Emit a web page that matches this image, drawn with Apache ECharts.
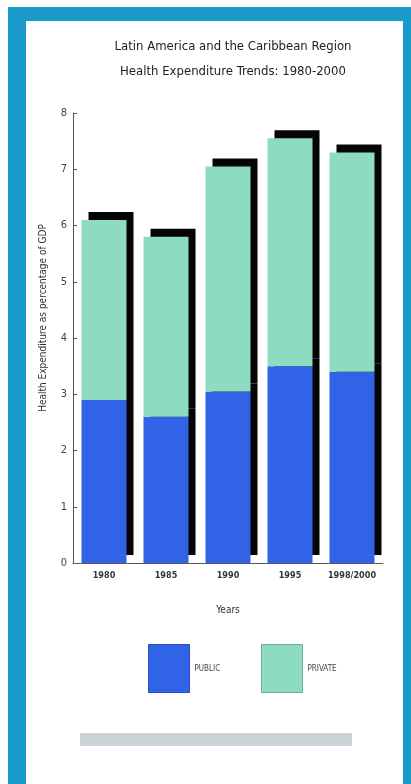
<!DOCTYPE html>
<html>
<head>
<meta charset="utf-8">
<script src="https://cdn.jsdelivr.net/npm/echarts@6/dist/echarts.min.js"></script>
<style>
html,body{margin:0;padding:0;background:#fff;overflow:hidden;}
#frame{position:absolute;left:8px;top:7px;width:377px;height:800px;border-left:18px solid #1a9acb;border-top:14px solid #1a9acb;border-right:8px solid #1a9acb;background:#fff;}
#chart{position:absolute;left:0;top:0;width:411px;height:784px;}
</style>
</head>
<body>
<div id="frame"></div>
<div id="chart"></div>
<script>
const titleLines = ['Latin America and the Caribbean Region', 'Health Expenditure Trends: 1980-2000'];
const categories = ['1980', '1985', '1990', '1995', '1998/2000'];
const publicValues = [2.9, 2.6, 3.05, 3.5, 3.4];
const privateValues = [3.2, 3.2, 4.0, 4.05, 3.9];
const seriesNames = ['PUBLIC', 'PRIVATE'];
const yAxisTitle = 'Health Expenditure as percentage of GDP';
const xAxisTitle = 'Years';

const font = "'Liberation Sans Narrow', 'DejaVu Sans Condensed', 'Liberation Sans', sans-serif";
const chart = echarts.init(document.getElementById('chart'), null, {renderer: 'canvas'});
const noShadow = {shadowBlur: 0, shadowOffsetX: 0, shadowOffsetY: 0, shadowColor: 'rgba(0,0,0,0)'};
chart.setOption({
  animation: false,
  backgroundColor: 'transparent',
  title: {
    text: titleLines.join('\n'),
    left: 228, top: 29, textAlign: 'center',
    textStyle: {fontFamily: font, fontSize: 13, fontWeight: 'normal', color: '#222', lineHeight: 25}
  },
  grid: {left: 73, right: 28, top: 113, bottom: 221, containLabel: false},
  legend: [
    {data: [seriesNames[0]], left: 143, top: 639, itemWidth: 41, itemHeight: 48, icon: 'rect',
     textStyle: {fontFamily: font, fontSize: 8, color: '#444'},
     itemStyle: Object.assign({borderColor: '#2a4fb8', borderWidth: 1}, noShadow)},
    {data: [seriesNames[1]], left: 256, top: 639, itemWidth: 41, itemHeight: 48, icon: 'rect',
     textStyle: {fontFamily: font, fontSize: 8, color: '#444'},
     itemStyle: Object.assign({borderColor: '#6fae95', borderWidth: 1}, noShadow)}
  ],
  xAxis: {
    type: 'category', data: categories,
    name: xAxisTitle, nameLocation: 'middle', nameGap: 42,
    nameTextStyle: {fontFamily: font, fontSize: 10, color: '#333'},
    axisLine: {lineStyle: {color: '#555', width: 1}},
    axisTick: {show: false},
    axisLabel: {interval: 0, fontFamily: font, fontSize: 9, fontWeight: 'bold', color: '#333', margin: 8}
  },
  yAxis: {
    type: 'value', min: 0, max: 8, interval: 1,
    axisLine: {show: true, lineStyle: {color: '#555', width: 1}},
    axisTick: {show: true, inside: true, length: 4, lineStyle: {color: '#555'}},
    splitLine: {show: false},
    axisLabel: {fontFamily: font, fontSize: 11, color: '#444', margin: 6}
  },
  series: [
    {name: seriesNames[0], type: 'bar', stack: 'total', data: publicValues, barWidth: 45,
     itemStyle: {color: '#3163e6', borderWidth: 0,
                 shadowColor: '#050505', shadowBlur: 0, shadowOffsetX: 7, shadowOffsetY: -8}},
    {name: seriesNames[1], type: 'bar', stack: 'total', data: privateValues, barWidth: 45,
     itemStyle: {color: '#8edcbf', borderWidth: 0,
                 shadowColor: '#050505', shadowBlur: 0, shadowOffsetX: 7, shadowOffsetY: -8}}
  ],
  graphic: [
    {type: 'text', x: 43, y: 318, rotation: Math.PI / 2,
     style: {text: yAxisTitle, fontFamily: font, fontSize: 10, fill: '#333', align: 'center', verticalAlign: 'middle'}},
    {type: 'rect', shape: {x: 80, y: 733, width: 272, height: 13},
     style: {fill: '#cbd3d6'}}
  ]
});
</script>
</body>
</html>
